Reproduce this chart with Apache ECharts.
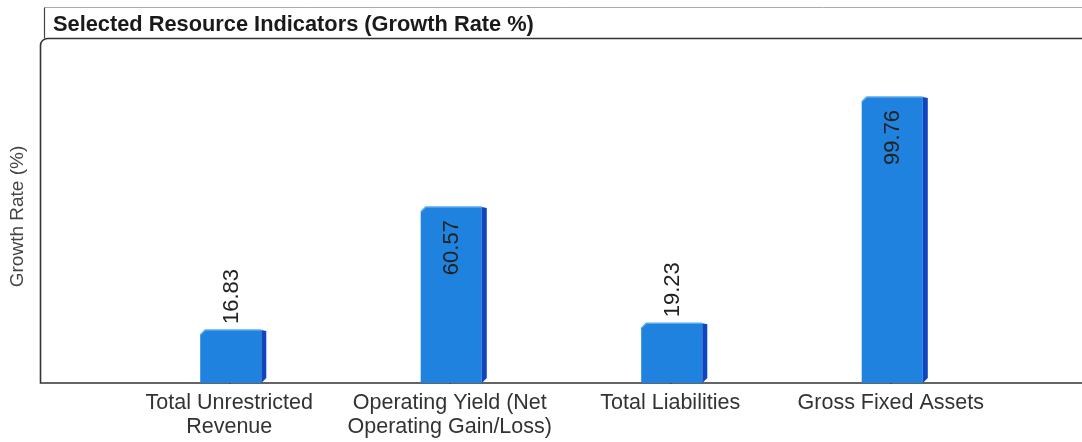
<!DOCTYPE html>
<html>
<head>
<meta charset="utf-8">
<script src="https://cdn.jsdelivr.net/npm/echarts/dist/echarts.min.js"></script>
<style>
  html, body { margin: 0; padding: 0; background: #fff; }
  #chart { width: 1082px; height: 442px; }
</style>
</head>
<body>
<div id="chart"></div>
<script>
// ---- data ----
const titleText = 'Selected Resource Indicators (Growth Rate %)';
const yAxisName = 'Growth Rate (%)';
const categories = [
  'Total Unrestricted\nRevenue',
  'Operating Yield (Net\nOperating Gain/Loss)',
  'Total Liabilities',
  'Gross Fixed Assets'
];
const growthValues = [16.83, 60.57, 19.23, 99.76];
const yMin = -2;
const yMax = 120;

// ---- style ----
const FONT = 'Liberation Sans, Arial, sans-serif';
const FRONT = '#1f82de';
const SIDE = '#0f45bf';
const EDGE = '#5aaaf0';

function renderBar(params, api) {
  const i = api.value(0);
  const v = api.value(1);
  const top = api.coord([i, v]);
  const base = api.coord([i, yMin]);
  const band = api.size([1, 0])[0];
  const w = band * 0.277;
  const cx = top[0] + 1.5;
  const x0 = cx - w / 2, x1 = cx + w / 2;
  const yT = top[1], yB = base[1];
  const d = 5;
  const fs = 22;
  const txtLen = fs * 2.5;
  const inside = (yB - yT) > txtLen + 40;
  return {
    type: 'group',
    children: [
      { type: 'polygon', shape: { points: [[x0, yT + d], [x0 + d, yT], [x1, yT], [x1, yB], [x0, yB]] },
        style: { fill: FRONT } },
      { type: 'polygon', shape: { points: [[x1, yT], [x1 + d, yT + 1], [x1 + d, yB - d], [x1, yB]] },
        style: { fill: SIDE } },
      { type: 'polyline', shape: { points: [[x0, yT + d], [x0 + d, yT], [x1, yT]] },
        style: { stroke: EDGE, lineWidth: 1.5, fill: null } },
      { type: 'text', x: cx + 1, y: inside ? yT + 13 : yT - 6, rotation: Math.PI / 2,
        style: { text: v.toFixed(2), fontSize: fs, fontFamily: FONT, fill: '#222',
                 align: inside ? 'right' : 'left', verticalAlign: 'middle' } }
    ]
  };
}

const chart = echarts.init(document.getElementById('chart'), null, { renderer: 'canvas' });
chart.setOption({
  backgroundColor: '#fff',
  animation: false,
  title: {
    text: titleText,
    left: 48, top: 9,
    textStyle: { fontFamily: FONT, fontSize: 21.8, fontWeight: 'bold', color: '#1a1a1a' }
  },
  graphic: [
    { type: 'line', z: 0, shape: { x1: 44.5, y1: 7.5, x2: 1100, y2: 7.5 }, style: { stroke: '#aaa', lineWidth: 1 } },
    { type: 'line', z: 0, shape: { x1: 44.5, y1: 7.5, x2: 44.5, y2: 38 }, style: { stroke: '#444', lineWidth: 1.2 } },
    { type: 'rect', z: 0, shape: { x: 40.5, y: 38.5, width: 1100, height: 344.5, r: [7, 0, 0, 0] },
      style: { fill: null, stroke: '#333', lineWidth: 1.6 } }
  ],
  grid: { left: 118, right: 81, top: 40, bottom: 59, containLabel: false },
  xAxis: {
    type: 'category',
    data: categories,
    axisLine: { show: false },
    axisTick: { show: true, alignWithLabel: true, length: 6, lineStyle: { color: '#222', width: 1.5 } },
    axisLabel: { interval: 0, fontFamily: FONT, fontSize: 21.5, color: '#333', lineHeight: 24, margin: 8 },
    splitLine: { show: false }
  },
  yAxis: {
    type: 'value',
    min: yMin, max: yMax,
    name: yAxisName,
    nameLocation: 'middle',
    nameRotate: 90,
    nameGap: 92,
    nameTextStyle: { fontFamily: FONT, fontSize: 19, color: '#444', padding: [0, 10, 0, 0] },
    axisLine: { show: false },
    axisTick: { show: false },
    axisLabel: { show: false },
    splitLine: { show: false }
  },
  series: [{
    type: 'custom',
    renderItem: renderBar,
    data: growthValues.map((v, i) => [i, v]),
    encode: { x: 0, y: 1 },
    z: 5
  }]
});
</script>
</body>
</html>
